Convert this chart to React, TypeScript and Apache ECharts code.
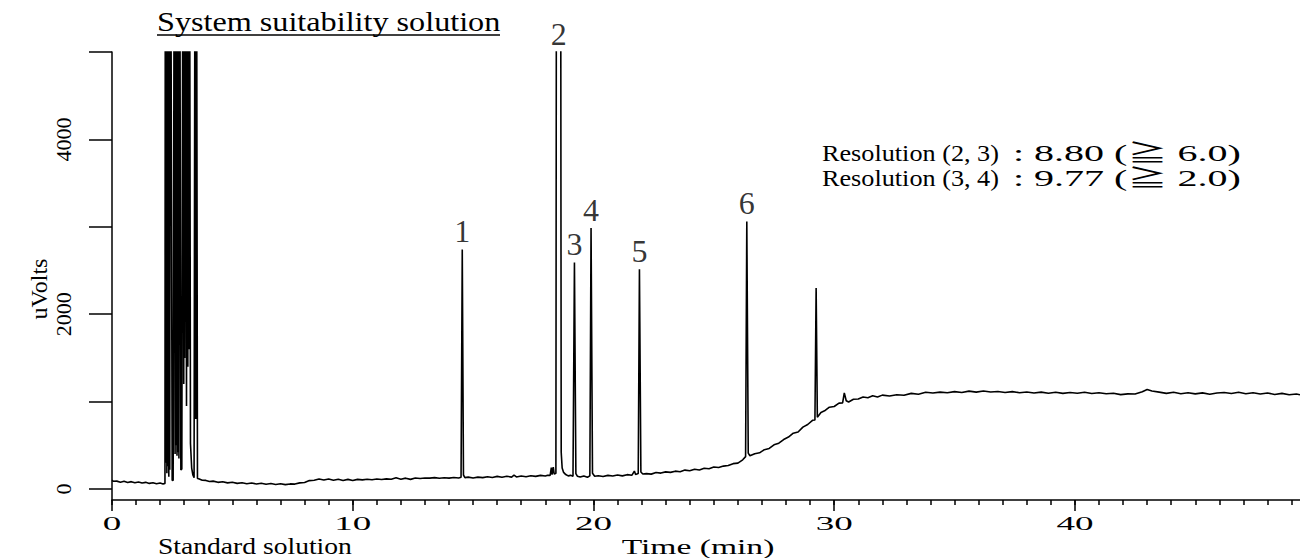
import React, { useEffect, useRef } from "react";
import * as echarts from "echarts";

// ---- data (time in min, signal in uVolts) ----
const earlyTrace: [number, number][] = [
  [0, 100], [0.06, 88], [0.2, 90], [0.35, 78], [0.5, 88], [0.65, 74], [0.8, 84], [0.95, 72],
  [1.1, 80], [1.25, 68], [1.4, 76], [1.55, 64], [1.7, 72], [1.85, 60], [2.0, 68], [2.12, 58], [2.2, 64],
];

const solventTrace: [number, number][] = [
  [2.22, 9000], [2.24, 300], [2.26, 9000], [2.28, 180], [2.3, 9000], [2.32, 260], [2.34, 9000],
  [2.36, 140], [2.38, 9000], [2.4, 220], [2.42, 9000], [2.44, 9000], [2.5, 100], [2.54, 96],
  [2.6, 9000], [2.62, 400], [2.64, 9000], [2.66, 500], [2.68, 9000], [2.7, 380], [2.72, 9000],
  [2.74, 420], [2.76, 9000], [2.78, 350], [2.8, 9000], [2.86, 217], [2.9, 230],
  [2.96, 9000], [2.98, 1200], [3.0, 9000], [3.02, 1500], [3.04, 9000], [3.06, 9000], [3.095, 950],
  [3.13, 9000], [3.15, 1400], [3.17, 9000], [3.19, 1600], [3.21, 9000], [3.22, 9000],
  [3.26, 520], [3.31, 240], [3.36, 160], [3.41, 130],
  [3.46, 9000], [3.48, 800], [3.5, 9000], [3.55, 120],
];

const driftTrace: [number, number][] = [
  [3.6, 118], [3.75, 100], [3.9, 98], [4.05, 86], [4.2, 90], [4.4, 76], [4.6, 82], [4.8, 70],
  [5.0, 78], [5.2, 64], [5.4, 72], [5.6, 60], [5.8, 68], [6.0, 58], [6.2, 66], [6.4, 54],
  [6.6, 62], [6.8, 52], [7.0, 60], [7.2, 50], [7.4, 58], [7.6, 56], [7.8, 70], [8.0, 74],
  [8.2, 96], [8.4, 100], [8.6, 114], [8.8, 102], [9.0, 114], [9.2, 100], [9.4, 112], [9.6, 98],
  [9.8, 110], [10.0, 96], [10.2, 110], [10.4, 104], [10.6, 112], [10.8, 106], [11.0, 114],
  [11.2, 108], [11.4, 116], [11.6, 112], [11.8, 128], [12.0, 112], [12.2, 124], [12.4, 110],
  [12.6, 126], [12.8, 120], [13.0, 126], [13.2, 124], [13.4, 130], [13.6, 122], [13.8, 128],
  [14.0, 124], [14.2, 132], [14.4, 126],
];

const peakRegionTrace: [number, number][] = [
  [14.5, 134], [14.55, 2740], [14.6, 160], [14.66, 130], [14.8, 136], [15.0, 126], [15.2, 136],
  [15.4, 130], [15.6, 140], [15.8, 132], [16.0, 144], [16.2, 134], [16.4, 146], [16.6, 136],
  [16.7, 158], [16.8, 138], [17.0, 148], [17.2, 140], [17.4, 152], [17.6, 144], [17.8, 156],
  [18.0, 148], [18.1, 158], [18.2, 156], [18.25, 245], [18.28, 165], [18.33, 250], [18.37, 170],
  [18.44, 180], [18.47, 9000], [18.63, 9000], [18.66, 420], [18.7, 240], [18.76, 190],
  [18.85, 165], [18.95, 150], [19.05, 156], [19.15, 146], [19.21, 2590], [19.27, 175],
  [19.33, 146], [19.45, 136], [19.6, 148], [19.75, 134], [19.85, 150], [19.9, 2985],
  [19.96, 180], [20.05, 146], [20.2, 152], [20.4, 142], [20.6, 156], [20.8, 148], [21.0, 160],
  [21.2, 150], [21.4, 164], [21.6, 158], [21.7, 205], [21.75, 166], [21.86, 176], [21.91, 2515],
  [21.97, 195], [22.05, 172], [22.2, 176],
];

const gradientTrace: [number, number][] = [
  [22.4, 170], [22.6, 188], [22.8, 182], [23.0, 196], [23.2, 190], [23.4, 204], [23.6, 198],
  [23.8, 216], [24.0, 208], [24.2, 226], [24.4, 218], [24.6, 238], [24.8, 232], [25.0, 252],
  [25.2, 246], [25.4, 262], [25.6, 268], [25.8, 290], [26.0, 296], [26.2, 334], [26.32, 370],
  [26.37, 3060], [26.43, 410], [26.5, 380], [26.7, 404], [26.9, 414], [27.1, 450], [27.3, 464],
  [27.5, 506], [27.7, 524], [27.9, 566], [28.1, 594], [28.3, 638], [28.5, 652], [28.7, 708],
  [28.9, 738], [29.1, 786], [29.2, 790], [29.25, 2300], [29.3, 820], [29.45, 876], [29.6, 894],
  [29.8, 936], [30.0, 944], [30.2, 982], [30.35, 984], [30.42, 1100], [30.5, 1010], [30.6, 996],
  [30.8, 1026], [31.0, 1030],
];

const plateauTrace: [number, number][] = [
  [31.2, 1052], [31.4, 1044], [31.6, 1066], [31.8, 1052], [32.0, 1074], [32.3, 1064], [32.6, 1078],
  [32.9, 1072], [33.2, 1094], [33.5, 1084], [33.8, 1106], [34.1, 1098], [34.4, 1108], [34.7, 1102],
  [35.0, 1114], [35.3, 1104], [35.6, 1120], [35.9, 1108], [36.2, 1122], [36.5, 1110], [36.8, 1116],
  [37.1, 1104], [37.4, 1114], [37.7, 1102], [38.0, 1110], [38.3, 1098], [38.6, 1108], [38.9, 1096],
  [39.2, 1106], [39.5, 1094], [39.8, 1104], [40.1, 1096], [40.4, 1106], [40.7, 1092], [41.0, 1102],
  [41.3, 1090], [41.6, 1096], [41.9, 1080], [42.2, 1088], [42.5, 1086], [42.8, 1112], [43.0, 1138],
  [43.2, 1122], [43.5, 1108], [43.8, 1094], [44.1, 1106], [44.4, 1090], [44.7, 1102], [45.0, 1088],
  [45.3, 1100], [45.6, 1084], [45.9, 1098], [46.2, 1104], [46.5, 1092], [46.8, 1106], [47.1, 1090],
  [47.4, 1102], [47.7, 1086], [48.0, 1098], [48.3, 1082], [48.6, 1094], [48.9, 1078], [49.2, 1086],
  [49.35, 1078],
];

const peakLabels: [number, number, string][] = [
  [14.55, 2740, "1"], [18.56, 5000, "2"], [19.21, 2590, "3"],
  [19.9, 2985, "4"], [21.91, 2515, "5"], [26.37, 3060, "6"],
];

const xMajorTicks = [0, 10, 20, 30, 40];
const xMinorTicks = [
  0, 1, 2, 3, 4, 5, 6, 7, 8, 9, 10, 11, 12, 13, 14, 15, 16, 17, 18, 19, 20, 21, 22, 23, 24,
  25, 26, 27, 28, 29, 30, 31, 32, 33, 34, 35, 36, 37, 38, 39, 40, 41, 42, 43, 44, 45, 46, 47, 48, 49,
];
const xTickLabels = ["0", "10", "20", "30", "40"];
const yTicks = [0, 1000, 2000, 3000, 4000, 5000];
const yTickLabels = [0, 2000, 4000];

const resolutionNames = ["Resolution (2, 3)", "Resolution (3, 4)"];
const resolutionValues = [": 8.80 (≧ 6.0)", ": 9.77 (≧ 2.0)"];

const titleText = "System suitability solution";
const bottomNote = "Standard solution";
const xName = "Time (min)";
const yName = "uVolts";

const SERIF = "Liberation Serif, Times New Roman, serif";
const SERIF_CJK = "Liberation Serif, Noto Sans CJK JP, serif";

export default function App() {
  const ref = useRef<HTMLDivElement>(null);

  useEffect(() => {
    if (!ref.current) return;
    const chart = echarts.init(ref.current, null, { renderer: "svg" });
    const trace = [
      ...earlyTrace, ...solventTrace, ...driftTrace,
      ...peakRegionTrace, ...gradientTrace, ...plateauTrace,
    ];
    const xMin = 0;
    const xMax = 49.35;
    const axisBlack = { color: "#000", width: 1.5 };

    chart.setOption({
      animation: false,
      backgroundColor: "#fff",
      grid: { left: 112, right: 0, top: 52, bottom: 58, containLabel: false },
      xAxis: [
        {
          type: "value", min: xMin, max: xMax, interval: 1,
          axisLine: { show: true, onZero: false, lineStyle: axisBlack },
          axisTick: { show: true, inside: false, length: 5, customValues: xMinorTicks, lineStyle: axisBlack },
          axisLabel: { show: false },
          splitLine: { show: false },
        },
        {
          type: "value", min: xMin, max: xMax, interval: 10, position: "bottom",
          axisLine: { show: false, onZero: false },
          axisTick: { show: true, inside: false, length: 11, customValues: xMajorTicks, lineStyle: axisBlack },
          axisLabel: { show: false },
          splitLine: { show: false },
        },
      ],
      yAxis: {
        type: "value", min: -126, max: 5000,
        axisLine: { show: true, onZero: false, lineStyle: axisBlack },
        axisTick: { show: true, inside: false, length: 23, customValues: yTicks, lineStyle: axisBlack },
        axisLabel: {
          show: true, customValues: yTickLabels, rotate: 90, margin: 38,
          fontSize: 22, fontFamily: SERIF, color: "#000",
          formatter: (v: number) => String(v),
        },
        splitLine: { show: false },
      },
      series: [
        {
          type: "line", data: trace, xAxisIndex: 0, symbol: "none", clip: true,
          lineStyle: { color: "#000", width: 1.6 }, silent: true,
        },
        {
          type: "scatter", xAxisIndex: 0, symbolSize: 1,
          itemStyle: { color: "rgba(0,0,0,0)" }, silent: true,
          data: peakLabels.map((p) => ({ value: [p[0], p[1]], name: p[2] })),
          label: {
            show: true, position: "top", distance: 2, formatter: (p: any) => p.name,
            fontSize: 32, fontFamily: SERIF, color: "#000",
          },
        },
      ],
    });

    const xLabelEls = xMajorTicks.map((v, i) => ({
      type: "text",
      x: chart.convertToPixel({ xAxisIndex: 0 }, v) as number,
      y: 524,
      scaleX: 1.95,
      style: { text: xTickLabels[i], fontSize: 19, fontFamily: SERIF, fill: "#000", align: "center", verticalAlign: "middle" },
    }));

    const resEls: any[] = [];
    resolutionNames.forEach((n, i) => {
      resEls.push({
        type: "text", x: 822, y: 153 + i * 25, scaleX: 1.14,
        style: { text: n, fontSize: 23, fontFamily: SERIF, fill: "#000", align: "left", verticalAlign: "middle" },
      });
      resEls.push({
        type: "text", x: 1013, y: 153 + i * 25, scaleX: 1.74,
        style: { text: resolutionValues[i], fontSize: 23, fontFamily: SERIF_CJK, fill: "#000", align: "left", verticalAlign: "middle" },
      });
    });

    chart.setOption({
      graphic: [
        {
          type: "text", x: 157, y: 22, scaleX: 1.15,
          style: { text: titleText, fontSize: 28, fontFamily: SERIF, fill: "#000", align: "left", verticalAlign: "middle" },
        },
        { type: "line", shape: { x1: 157, y1: 35, x2: 500, y2: 35 }, style: { stroke: "#000", lineWidth: 1.6 } },
        {
          type: "text", x: 39, y: 289, rotation: Math.PI / 2,
          style: { text: yName, fontSize: 24, fontFamily: SERIF, fill: "#000", align: "center", verticalAlign: "middle" },
        },
        {
          type: "text", x: 698, y: 547, scaleX: 1.6,
          style: { text: xName, fontSize: 21, fontFamily: SERIF, fill: "#000", align: "center", verticalAlign: "middle" },
        },
        {
          type: "text", x: 158, y: 546, scaleX: 1.2,
          style: { text: bottomNote, fontSize: 23, fontFamily: SERIF, fill: "#000", align: "left", verticalAlign: "middle" },
        },
        ...xLabelEls,
        ...resEls,
      ],
    });

    return () => chart.dispose();
  }, []);

  return (
    <div
      ref={ref}
      style={{ position: "absolute", left: 0, top: 0, width: 1300, height: 558, background: "#fff" }}
    />
  );
}
